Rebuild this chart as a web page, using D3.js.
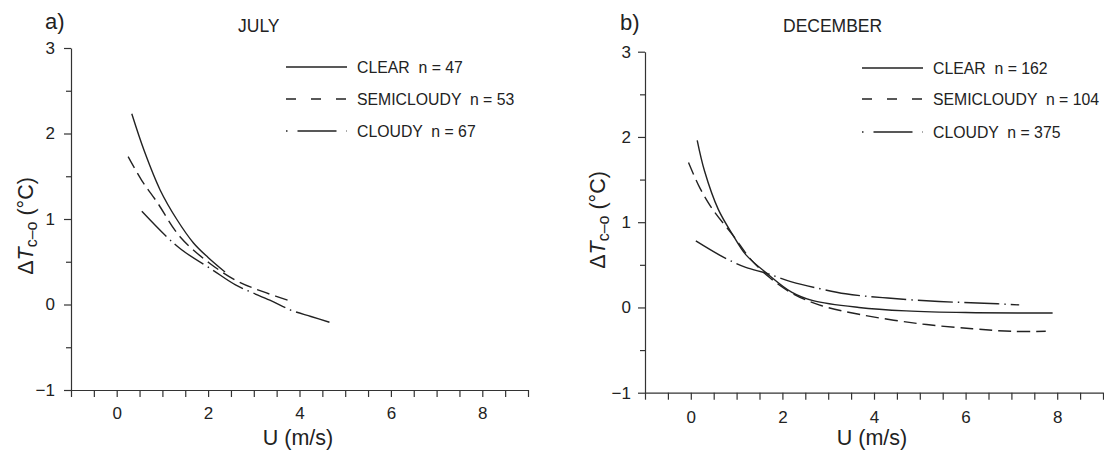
<!DOCTYPE html>
<html><head><meta charset="utf-8">
<script src="https://cdn.jsdelivr.net/npm/d3@7"></script>
<style>
html,body{margin:0;padding:0;background:#fff;}
svg{display:block;font-family:"Liberation Sans",Arial,Helvetica,sans-serif;}
text{fill:#222;}
</style></head>
<body><svg id="chart" width="1104" height="452"></svg>
<script>
// ---- data ----
const julyClearU   = [0.33, 0.6, 0.95, 1.31, 1.68, 2.0, 2.37];
const julyClearT   = [2.23, 1.8, 1.34, 1.0, 0.72, 0.55, 0.38];
const julySemiU    = [0.25, 0.55, 0.88, 1.39, 2.04, 2.65, 3.2, 3.86];
const julySemiT    = [1.73, 1.45, 1.2, 0.79, 0.48, 0.27, 0.15, 0.03];
const julyCloudyU  = [0.55, 1.06, 1.42, 2.11, 2.6, 3.35, 3.83, 4.25, 4.67];
const julyCloudyT  = [1.09, 0.81, 0.64, 0.40, 0.23, 0.05, -0.07, -0.14, -0.21];

const decClearU    = [0.14, 0.3, 0.6, 0.93, 1.2, 1.66, 2.2, 2.67, 3.67, 4.7, 6.0, 7.9];
const decClearT    = [1.96, 1.6, 1.15, 0.84, 0.62, 0.40, 0.18, 0.08, 0.0, -0.04, -0.06, -0.065];
const decSemiU     = [-0.05, 0.2, 0.49, 0.93, 1.3, 1.7, 2.2, 2.8, 3.67, 4.98, 6.15, 7.0, 7.75];
const decSemiT     = [1.70, 1.40, 1.14, 0.84, 0.57, 0.36, 0.17, 0.03, -0.08, -0.19, -0.25, -0.28, -0.28];
const decCloudyU   = [0.11, 0.71, 1.2, 1.66, 2.2, 2.82, 3.38, 4.3, 5.42, 6.4, 7.17];
const decCloudyT   = [0.78, 0.59, 0.47, 0.40, 0.30, 0.22, 0.16, 0.11, 0.07, 0.05, 0.03];

const seriesNames  = ["CLEAR", "SEMICLOUDY", "CLOUDY"];
const julyCounts   = [47, 53, 67];
const decCounts    = [162, 104, 375];
const panelLetters = ["a)", "b)"];
const panelMonths  = ["JULY", "DECEMBER"];
const yTickLabels  = [-1, 0, 1, 2, 3];
const yMinorTicks  = [-0.5, 0.5, 1.5, 2.5];
const xTickLabels  = [0, 2, 4, 6, 8];
const xAllTicks    = [-1,-0.5,0,0.5,1,1.5,2,2.5,3,3.5,4,4.5,5,5.5,6,6.5,7,7.5,8,8.5,9];

// ---- drawing ----
const svg = d3.select("#chart");
const ink = "#222";

const panels = [
  {x0:71, x1:528, yTop:48, yBot:390, yPad:9, xPad:10, letterX:45, letterY:29, monthX:238, monthY:32,
   legX:286, legTextX:357, legY:[67,99,131], ylabX:33, ylabY:226, xlabX:298,
   data:[[julyClearU,julyClearT],[julySemiU,julySemiT],[julyCloudyU,julyCloudyT]], counts:julyCounts},
  {x0:645, x1:1103, yTop:51.7, yBot:392.7, yPad:7, xPad:11, letterX:620, letterY:30, monthX:783, monthY:32,
   legX:862, legTextX:933, legY:[68,99,132], ylabX:605, ylabY:220, xlabX:872,
   data:[[decClearU,decClearT],[decSemiU,decSemiT],[decCloudyU,decCloudyT]], counts:decCounts}
];
const curveDash = [null, "13,6", "35,5,1.5,5"];
const legendDash = [null, "10,15", "1.5,10,39,10,1.5"];

panels.forEach((p, i) => {
  const x = d3.scaleLinear().domain([-1, 9]).range([p.x0, p.x1]);
  const y = d3.scaleLinear().domain([-1, 3]).range([p.yBot, p.yTop]);
  const g = svg.append("g");

  // y axis: major + minor
  const yMaj = g.append("g").attr("transform", `translate(${p.x0},0)`)
    .call(d3.axisLeft(y).tickValues(yTickLabels).tickSize(7).tickSizeOuter(0).tickPadding(p.yPad)
      .tickFormat(d3.format("d")));
  const yMin = g.append("g").attr("transform", `translate(${p.x0},0)`)
    .call(d3.axisLeft(y).tickValues(yMinorTicks).tickSize(5).tickFormat(""));
  yMin.select(".domain").remove();

  // x axis
  const xAx = g.append("g").attr("transform", `translate(0,${p.yBot})`)
    .call(d3.axisBottom(x).tickValues(xAllTicks).tickSize(7).tickSizeOuter(0).tickPadding(p.xPad)
      .tickFormat(d => xTickLabels.includes(d) ? d3.format("d")(d) : ""));

  [yMaj, yMin, xAx].forEach(a => {
    a.selectAll("path, line").attr("stroke", "#333").attr("stroke-width", 1.2);
    a.selectAll("text").attr("font-size", 17).attr("fill", ink)
      .attr("font-family", "'Liberation Sans', Arial, sans-serif");
  });

  // curves
  const line = d3.line().x(d => x(d[0])).y(d => y(d[1])).curve(d3.curveCatmullRom.alpha(0.5));
  p.data.forEach((s, k) => {
    const pts = s[0].map((u, j) => [u, s[1][j]]);
    g.append("path").datum(pts).attr("d", line).attr("fill", "none")
      .attr("stroke", ink).attr("stroke-width", 1.4)
      .attr("stroke-dasharray", curveDash[k]);
  });

  // legend
  seriesNames.forEach((nm, k) => {
    g.append("line").attr("x1", p.legX).attr("x2", p.legX + 61)
      .attr("y1", p.legY[k]).attr("y2", p.legY[k])
      .attr("stroke", ink).attr("stroke-width", 1.3).attr("stroke-dasharray", legendDash[k]);
    g.append("text").attr("x", p.legTextX).attr("y", p.legY[k] + 5.8)
      .attr("font-size", 15.8).style("white-space", "pre")
      .text(`${nm}  n = ${p.counts[k]}`);
  });

  // titles
  g.append("text").attr("x", p.letterX).attr("y", p.letterY).attr("font-size", 22).text(panelLetters[i]);
  g.append("text").attr("x", p.monthX).attr("y", p.monthY).attr("font-size", 17.5).text(panelMonths[i]);

  // axis labels
  g.append("text").attr("x", p.xlabX).attr("y", 445).attr("text-anchor", "middle")
    .attr("font-size", 21.5).text("U (m/s)");
  const yl = g.append("text").attr("transform", `translate(${p.ylabX},${p.ylabY}) rotate(-90)`)
    .attr("text-anchor", "middle").attr("font-size", 21.5);
  yl.append("tspan").text("Δ");
  yl.append("tspan").attr("font-style", "italic").text("T");
  yl.append("tspan").attr("font-size", 16).attr("dy", 4).text("c–o");
  yl.append("tspan").attr("dy", -4).style("white-space", "pre").text(" (°C)");
});
</script>
</body></html>
